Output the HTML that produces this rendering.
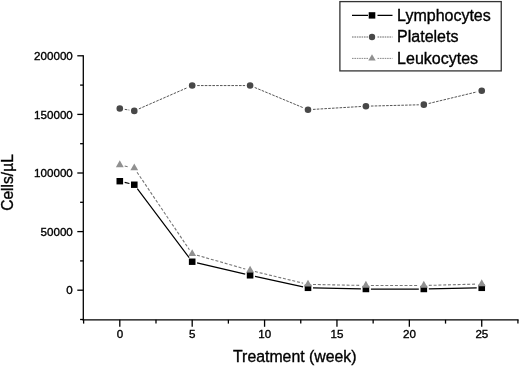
<!DOCTYPE html>
<html><head><meta charset="utf-8"><title>Chart</title>
<style>html,body{margin:0;padding:0;background:#fff}svg{display:block}text{font-family:"Liberation Sans",Arial,sans-serif;fill:#000;stroke:#000;stroke-width:0.35px}</style></head><body>
<svg width="520" height="367" viewBox="0 0 520 367">
<rect width="520" height="367" fill="#fff"/>
<g stroke="#000" stroke-width="1.3" fill="none" stroke-linecap="butt">
<path d="M83.3 55.20V320.45"/>
<path d="M82.65 319.8H518.57"/>
<path d="M77.30 290.20H83.3"/>
<path d="M80.10 260.90H83.3"/>
<path d="M77.30 231.60H83.3"/>
<path d="M80.10 202.30H83.3"/>
<path d="M77.30 173.00H83.3"/>
<path d="M80.10 143.70H83.3"/>
<path d="M77.30 114.40H83.3"/>
<path d="M80.10 85.10H83.3"/>
<path d="M77.30 55.80H83.3"/>
<path d="M80.10 319.50H83.3"/>
<path d="M83.61 319.8V323.60"/>
<path d="M119.80 319.8V326.80"/>
<path d="M155.99 319.8V323.60"/>
<path d="M192.19 319.8V326.80"/>
<path d="M228.38 319.8V323.60"/>
<path d="M264.57 319.8V326.80"/>
<path d="M300.76 319.8V323.60"/>
<path d="M336.95 319.8V326.80"/>
<path d="M373.15 319.8V323.60"/>
<path d="M409.34 319.8V326.80"/>
<path d="M445.53 319.8V323.60"/>
<path d="M481.73 319.8V326.80"/>
<path d="M517.92 319.8V323.60"/>
</g>
<g font-size="11.6" text-anchor="end">
<text x="72.8" y="294.30">0</text>
<text x="72.8" y="235.70">50000</text>
<text x="72.8" y="177.10">100000</text>
<text x="72.8" y="118.50">150000</text>
<text x="72.8" y="59.90">200000</text>
</g>
<g font-size="11.6" text-anchor="middle">
<text x="119.90" y="338.3">0</text>
<text x="192.28" y="338.3">5</text>
<text x="264.67" y="338.3">10</text>
<text x="337.06" y="338.3">15</text>
<text x="409.44" y="338.3">20</text>
<text x="481.83" y="338.3">25</text>
</g>
<text x="294.8" y="362" font-size="15.85" text-anchor="middle">Treatment (week)</text>
<text transform="translate(12.7,182.5) rotate(-90)" font-size="15.6" text-anchor="middle">Cells/µL</text>
<path d="M124.74 109.34L129.34 110.08M138.86 108.88L187.60 87.57M197.19 85.57L245.09 85.57M254.71 87.49L303.39 107.79M312.99 109.41L360.92 106.50M370.91 106.06L418.82 104.80M428.68 103.50L476.86 91.90" fill="none" stroke="#555" stroke-width="1" stroke-dasharray="2.6 1.2"/>
<path d="M124.66 182.38L129.42 183.54M137.28 188.72L189.18 257.72M197.05 262.86L245.23 274.17M254.98 276.37L303.11 286.80M313.00 287.96L360.91 288.93M370.91 289.03L418.82 289.03M428.82 288.93L476.73 287.96" fill="none" stroke="#000" stroke-width="1.2"/>
<path d="M124.69 166.06L129.38 167.05M137.07 172.22L189.39 249.72M196.99 255.24L245.28 269.02M254.95 271.56L303.14 283.17M313.00 284.44L360.91 285.41M370.91 285.51L418.82 285.51M428.82 285.38L476.73 284.12" fill="none" stroke="#777" stroke-width="1.1" stroke-dasharray="3 1.8"/>
<circle cx="119.80" cy="108.54" r="3.3" fill="#484848"/>
<circle cx="134.28" cy="110.88" r="3.3" fill="#484848"/>
<circle cx="192.19" cy="85.57" r="3.3" fill="#484848"/>
<circle cx="250.09" cy="85.57" r="3.3" fill="#484848"/>
<circle cx="308.00" cy="109.71" r="3.3" fill="#484848"/>
<circle cx="365.91" cy="106.20" r="3.3" fill="#484848"/>
<circle cx="423.82" cy="104.67" r="3.3" fill="#484848"/>
<circle cx="481.73" cy="90.73" r="3.3" fill="#484848"/>
<rect x="116.50" y="178.00" width="6.6" height="6.4" fill="#000"/>
<rect x="130.98" y="181.52" width="6.6" height="6.4" fill="#000"/>
<rect x="188.88" y="258.52" width="6.6" height="6.4" fill="#000"/>
<rect x="246.79" y="272.12" width="6.6" height="6.4" fill="#000"/>
<rect x="304.70" y="284.66" width="6.6" height="6.4" fill="#000"/>
<rect x="362.61" y="285.83" width="6.6" height="6.4" fill="#000"/>
<rect x="420.52" y="285.83" width="6.6" height="6.4" fill="#000"/>
<rect x="478.43" y="284.66" width="6.6" height="6.4" fill="#000"/>
<path d="M119.80 160.33L123.70 167.23H115.90Z" fill="#909090"/>
<path d="M134.28 163.38L138.18 170.28H130.38Z" fill="#909090"/>
<path d="M192.19 249.17L196.09 256.07H188.28Z" fill="#909090"/>
<path d="M250.09 265.69L253.99 272.59H246.19Z" fill="#909090"/>
<path d="M308.00 279.64L311.90 286.54H304.10Z" fill="#909090"/>
<path d="M365.91 280.81L369.81 287.71H362.01Z" fill="#909090"/>
<path d="M423.82 280.81L427.72 287.71H419.92Z" fill="#909090"/>
<path d="M481.73 279.29L485.62 286.19H477.83Z" fill="#909090"/>
<rect x="339.9" y="1.6" width="161.35" height="69.3" fill="#fff" stroke="#333" stroke-width="1.3"/>
<path d="M352 15.4H368M377.5 15.4H392.5" stroke="#000" stroke-width="1.3"/>
<path d="M352 37.0H368M377.5 37.0H392.5" stroke="#666" stroke-width="1" stroke-dasharray="1.6 0.8"/>
<path d="M352 58.4H368M377.5 58.4H392.5" stroke="#888" stroke-width="1" stroke-dasharray="1.6 0.8"/>
<rect x="368.7" y="12.2" width="6.6" height="6.4" fill="#000"/>
<circle cx="372" cy="37.0" r="3.2" fill="#484848"/>
<path d="M372 54.199999999999996L375.7 60.5H368.3Z" fill="#909090"/>
<g font-size="16">
<text x="397.1" y="20.8">Lymphocytes</text>
<text x="397.1" y="42.3">Platelets</text>
<text x="397.1" y="63.9">Leukocytes</text>
</g>
</svg></body></html>
